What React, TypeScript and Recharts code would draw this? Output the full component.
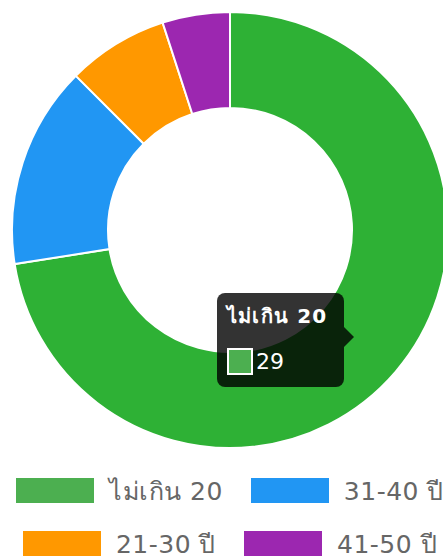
import React from 'react';
import { PieChart, Pie, Cell, Tooltip, Legend } from 'recharts';

const labels = ['ไม่เกิน 20', '31-40 ปี', '21-30 ปี', '41-50 ปี'];
const values = [29, 6, 3, 2];
const sliceColors = ['#2EB135', '#2196F3', '#FF9800', '#9C27B0'];
const legendColors = ['#4CAF50', '#2196F3', '#FF9800', '#9C27B0'];

const data = labels.map((name, i) => ({ name, value: values[i] }));

const FONT = '"DejaVu Sans", Verdana, sans-serif';

const LegendContent = () => {
  const rows = [[0, 1], [2, 3]];
  return (
    <div style={{ width: 460, fontFamily: FONT }}>
      {rows.map((row, r) => (
        <div
          key={r}
          style={{
            display: 'flex',
            justifyContent: 'center',
            alignItems: 'center',
            height: 53,
          }}
        >
          {row.map((i, k) => (
            <div
              key={i}
              style={{
                display: 'flex',
                alignItems: 'center',
                marginLeft: k === 0 ? 0 : 28,
              }}
            >
              <div
                style={{
                  width: 78,
                  height: 25,
                  background: legendColors[i],
                  marginRight: 15,
                }}
              />
              <span
                style={{
                  fontSize: 25,
                  letterSpacing: 0.5,
                  color: '#666',
                  whiteSpace: 'nowrap',
                }}
              >
                {labels[i]}
              </span>
            </div>
          ))}
        </div>
      ))}
    </div>
  );
};

const TooltipContent = (props: any) => {
  const idx = 0;
  const name = props?.payload?.[0]?.name ?? labels[idx];
  const value = props?.payload?.[0]?.value ?? values[idx];
  return (
    <div
      style={{
        position: 'relative',
        width: 127,
        height: 94,
        background: 'rgba(0,0,0,0.8)',
        borderRadius: 8,
        fontFamily: FONT,
        color: '#fff',
        boxSizing: 'border-box',
        padding: '10px 10px',
      }}
    >
      <div
        style={{
          fontSize: 20,
          fontWeight: 'bold',
          letterSpacing: 1.2,
          lineHeight: '26px',
          whiteSpace: 'nowrap',
        }}
      >
        {name}
      </div>
      <div style={{ display: 'flex', alignItems: 'center', marginTop: 19 }}>
        <div
          style={{
            width: 26,
            height: 27,
            boxSizing: 'border-box',
            border: '2px solid #fff',
            background: legendColors[idx],
            marginRight: 3,
          }}
        />
        <span style={{ fontSize: 22, lineHeight: '27px' }}>{value}</span>
      </div>
      <div
        style={{
          position: 'absolute',
          left: 127,
          top: 34,
          width: 0,
          height: 0,
          borderTop: '10px solid transparent',
          borderBottom: '10px solid transparent',
          borderLeft: '10px solid rgba(0,0,0,0.8)',
        }}
      />
    </div>
  );
};

export default function App() {
  return (
    <div
      style={{
        position: 'absolute',
        left: 0,
        top: 0,
        width: 443,
        height: 557,
        overflow: 'hidden',
        background: '#fff',
      }}
    >
      <PieChart width={460} height={557} margin={{ top: 0, right: 0, bottom: 0, left: 0 }}>
        <Pie
          data={data}
          dataKey="value"
          nameKey="name"
          cx={230}
          cy={230}
          innerRadius={122}
          outerRadius={218}
          startAngle={90}
          endAngle={-270}
          stroke="#fff"
          strokeWidth={2}
          isAnimationActive={false}
        >
          {data.map((d, i) => (
            <Cell key={d.name} fill={sliceColors[i]} />
          ))}
        </Pie>
        <Tooltip
          active
          defaultIndex={0}
          position={{ x: 217, y: 293 }}
          content={<TooltipContent />}
          isAnimationActive={false}
          allowEscapeViewBox={{ x: true, y: true }}
          wrapperStyle={{ outline: 'none' }}
        />
        <Legend
          content={<LegendContent />}
          wrapperStyle={{ position: 'absolute', top: 464, left: 0, width: 460 }}
        />
      </PieChart>
    </div>
  );
}
